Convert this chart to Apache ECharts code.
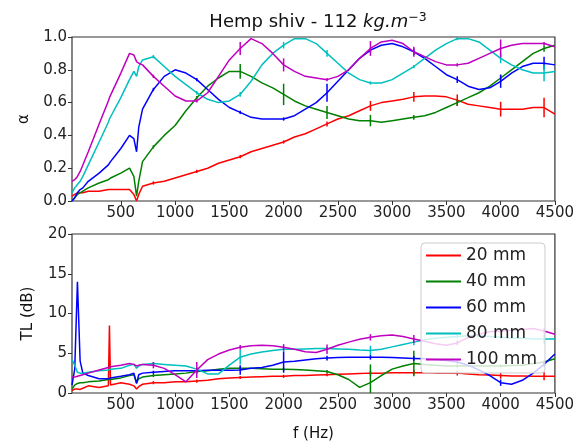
<!DOCTYPE html>
<html>
<head>
<meta charset="utf-8">
<script src="https://cdn.jsdelivr.net/npm/echarts@6/dist/echarts.min.js"></script>
<style>
  html, body { margin: 0; padding: 0; background: #fff; }
  #main { width: 577px; height: 443px; }
</style>
</head>
<body>
<div id="main"></div>
<script>
// frequency grid (Hz)
var freq = [50, 75, 100, 125, 150, 200, 300, 385, 395, 405, 500, 580, 620, 645, 665, 700,
  800, 900, 1000, 1100, 1200, 1300, 1400, 1500, 1600, 1700, 1800, 1900, 2000, 2100, 2200, 2300,
  2400, 2500, 2600, 2700, 2800, 2900, 3000, 3100, 3200, 3300, 3400, 3500, 3600, 3700, 3800, 3900,
  4000, 4100, 4200, 4300, 4400, 4500];

var names = ['20 mm', '40 mm', '60 mm', '80 mm', '100 mm'];
var colors = ['#ff0000', '#008000', '#0000ff', '#00bfbf', '#bf00bf'];

// absorption coefficient
var alpha20 = [0.03, 0.04, 0.05, 0.05, 0.05, 0.06, 0.06, 0.07, 0.07, 0.07, 0.07, 0.07, 0.04, 0.0, 0.04, 0.09,
  0.11, 0.12, 0.14, 0.16, 0.18, 0.2, 0.23, 0.25, 0.27, 0.3, 0.32, 0.34, 0.36, 0.39, 0.41, 0.44,
  0.47, 0.5, 0.52, 0.55, 0.58, 0.6, 0.61, 0.62, 0.635, 0.64, 0.64, 0.635, 0.615, 0.59, 0.58, 0.57,
  0.56, 0.56, 0.56, 0.57, 0.57, 0.53];
var alpha40 = [0.0, 0.02, 0.04, 0.05, 0.06, 0.08, 0.11, 0.13, 0.14, 0.14, 0.17, 0.2, 0.15, 0.03, 0.12, 0.24,
  0.33, 0.4, 0.46, 0.55, 0.63, 0.7, 0.75, 0.79, 0.79, 0.76, 0.72, 0.69, 0.65, 0.61, 0.58, 0.56,
  0.54, 0.52, 0.5, 0.49, 0.49, 0.48, 0.49, 0.5, 0.51, 0.52, 0.54, 0.57, 0.6, 0.63, 0.66, 0.7,
  0.75, 0.8, 0.85, 0.9, 0.93, 0.95];
var alpha60 = [0.0, 0.02, 0.05, 0.07, 0.08, 0.12, 0.17, 0.22, 0.23, 0.24, 0.32, 0.4, 0.38, 0.3, 0.45, 0.56,
  0.68, 0.76, 0.8, 0.78, 0.74, 0.68, 0.62, 0.57, 0.54, 0.51, 0.5, 0.5, 0.5, 0.52, 0.56, 0.6,
  0.66, 0.73, 0.8, 0.87, 0.92, 0.95, 0.96, 0.94, 0.91, 0.87, 0.82, 0.77, 0.74, 0.7, 0.68, 0.69,
  0.73, 0.78, 0.82, 0.84, 0.84, 0.83];
var alpha80 = [0.05, 0.08, 0.1, 0.12, 0.15, 0.22, 0.36, 0.48, 0.5, 0.51, 0.63, 0.74, 0.79, 0.76, 0.82, 0.86,
  0.88, 0.82, 0.76, 0.71, 0.66, 0.62, 0.6, 0.61, 0.65, 0.73, 0.83, 0.9, 0.95, 0.99, 0.99, 0.96,
  0.9, 0.84, 0.78, 0.74, 0.72, 0.72, 0.74, 0.78, 0.82, 0.87, 0.92, 0.96, 0.99, 0.99, 0.97, 0.92,
  0.87, 0.83, 0.8, 0.78, 0.78, 0.79];
var alpha100 = [0.12, 0.13, 0.15, 0.18, 0.22, 0.3, 0.47, 0.61, 0.63, 0.64, 0.78, 0.9, 0.89, 0.85, 0.84, 0.83,
  0.76, 0.7, 0.64, 0.61, 0.61, 0.66, 0.76, 0.86, 0.93, 0.99, 0.96, 0.9, 0.83, 0.79, 0.76, 0.75,
  0.74, 0.76, 0.8, 0.87, 0.93, 0.97, 0.98, 0.96, 0.91, 0.88, 0.85, 0.83, 0.83, 0.84, 0.87, 0.9,
  0.93, 0.95, 0.96, 0.96, 0.96, 0.94];

// transmission loss (dB)
var tl20 = [0.3, 0.5, 0.5, 0.45, 0.6, 0.9, 0.7, 0.9, 8.5, 1.0, 1.3, 1.1, 0.9, 0.5, 0.8, 1.1,
  1.3, 1.3, 1.4, 1.4, 1.5, 1.6, 1.8, 1.9, 1.95, 2.0, 2.05, 2.1, 2.1, 2.2, 2.2, 2.25,
  2.3, 2.35, 2.4, 2.45, 2.5, 2.5, 2.55, 2.55, 2.55, 2.55, 2.5, 2.5, 2.5, 2.4, 2.3, 2.25,
  2.2, 2.15, 2.15, 2.1, 2.1, 2.1];
var tl40 = [0.5, 1.0, 1.2, 1.3, 1.3, 1.4, 1.5, 1.7, 1.7, 1.7, 1.9, 2.2, 2.3, 1.3, 1.8, 2.0,
  2.2, 2.3, 2.4, 2.5, 2.7, 2.8, 3.0, 3.1, 3.1, 3.1, 3.05, 3.0, 3.0, 2.95, 2.9, 2.8,
  2.7, 2.3, 1.7, 0.7, 1.3, 2.2, 3.0, 3.4, 3.7, 3.6, 3.5, 3.4, 3.4, 3.4, 3.4, 3.4,
  3.4, 3.45, 3.5, 3.7, 3.9, 4.3];
var tl60 = [1.0, 3.0, 14.0, 4.0, 2.5, 2.2, 1.8, 1.8, 1.9, 1.9, 2.1, 2.3, 2.5, 1.2, 2.3, 2.5,
  2.6, 2.7, 2.8, 2.8, 2.8, 2.85, 2.85, 2.85, 2.9, 3.1, 3.2, 3.5, 3.9, 4.0, 4.15, 4.3,
  4.4, 4.45, 4.5, 4.5, 4.5, 4.5, 4.45, 4.4, 4.35, 4.3, 4.2, 4.1, 3.9, 3.5, 2.9, 2.2,
  1.3, 1.1, 1.6, 2.5, 3.6, 4.9];
var tl80 = [4.2, 3.5, 2.6, 2.5, 2.5, 2.6, 2.8, 2.9, 2.95, 3.0, 3.1, 3.5, 3.6, 3.1, 3.4, 3.6,
  3.7, 3.6, 3.5, 3.4, 3.0, 2.4, 2.4, 3.5, 4.5, 4.9, 5.15, 5.35, 5.5, 5.5, 5.55, 5.6,
  5.6, 5.55, 5.5, 5.4, 5.35, 5.5, 5.8, 6.1, 6.4, 6.7, 6.9, 7.0, 7.1, 7.2, 7.2, 7.1,
  7.0, 6.9, 6.9, 6.8, 6.8, 6.8];
var tl100 = [2.0, 2.0, 2.1, 2.2, 2.3, 2.5, 2.9, 3.2, 3.2, 3.3, 3.5, 3.7, 3.6, 3.4, 3.5, 3.6,
  3.5, 3.1, 2.3, 1.4, 2.9, 4.2, 4.9, 5.4, 5.75, 5.95, 6.0, 5.95, 5.75, 5.5, 5.2, 5.1,
  5.5, 6.0, 6.4, 6.75, 7.0, 7.2, 7.3, 7.1, 6.8, 6.5, 6.2, 6.0, 6.3, 7.0, 7.4, 7.7,
  7.8, 7.9, 8.0, 8.1, 7.8, 7.4];

// error bars (half height) at these frequencies
var errFreq = [800, 1200, 1600, 2000, 2400, 2800, 3200, 3600, 4000, 4400];
var errAlpha = [
  [0.01, 0.01, 0.01, 0.01, 0.015, 0.03, 0.03, 0.035, 0.045, 0.06],
  [0.01, 0.01, 0.045, 0.065, 0.04, 0.035, 0.015, 0.02, 0.02, 0.02],
  [0.01, 0.01, 0.01, 0.01, 0.055, 0.015, 0.02, 0.02, 0.04, 0.04],
  [0.01, 0.01, 0.015, 0.02, 0.02, 0.01, 0.01, 0.01, 0.03, 0.05],
  [0.01, 0.01, 0.04, 0.04, 0.01, 0.045, 0.03, 0.01, 0.055, 0.01]
];
var errTL = [
  [0.2, 0.2, 0.2, 0.2, 0.2, 0.3, 0.3, 0.3, 0.4, 0.5],
  [0.2, 0.2, 0.2, 0.2, 0.2, 2.3, 1.6, 0.2, 0.2, 0.2],
  [0.2, 0.2, 0.6, 1.35, 0.3, 0.3, 0.3, 0.2, 0.4, 0.3],
  [0.2, 0.2, 0.9, 0.3, 0.2, 0.6, 0.4, 0.2, 0.2, 0.6],
  [0.4, 1.0, 0.3, 0.4, 0.6, 0.4, 0.5, 0.3, 0.3, 0.3]
];

var xTicks = [500, 1000, 1500, 2000, 2500, 3000, 3500, 4000, 4500];
var alphaSets = [alpha20, alpha40, alpha60, alpha80, alpha100];
var tlSets = [tl20, tl40, tl60, tl80, tl100];

var font = 'DejaVu Sans';

function pairs(vals) {
  return freq.map(function (f, i) { return [f, vals[i]]; });
}

function errData(vals, err) {
  return errFreq.map(function (f, i) {
    var v = vals[freq.indexOf(f)];
    return [f, v - err[i], v + err[i]];
  });
}

function renderErr(params, api) {
  var p1 = api.coord([api.value(0), api.value(1)]);
  var p2 = api.coord([api.value(0), api.value(2)]);
  return {
    type: 'line',
    shape: { x1: p1[0], y1: p1[1], x2: p2[0], y2: p2[1] },
    style: { stroke: api.visual('color'), lineWidth: 1.5 }
  };
}

function xAxis(idx) {
  return {
    type: 'value', gridIndex: idx, min: 50, max: 4500,
    name: idx === 1 ? 'f (Hz)' : '', nameLocation: 'middle', nameGap: 34,
    nameTextStyle: { fontFamily: font, fontSize: 15, color: '#111' },
    axisLine: { show: false },
    axisTick: { show: true, length: 4, customValues: xTicks, lineStyle: { color: '#333' } },
    axisLabel: {
      customValues: xTicks, fontFamily: font, fontSize: 15, color: '#222', margin: 5,
      formatter: function (v) { return String(v); }
    },
    splitLine: { show: false }
  };
}

function yAxis(idx) {
  var top = idx === 0;
  return {
    type: 'value', gridIndex: idx,
    min: 0, max: top ? 1 : 20, interval: top ? 0.2 : 5,
    name: top ? 'α' : 'TL (dB)', nameLocation: 'middle', nameGap: top ? 40 : 36, nameRotate: 90,
    nameTextStyle: { fontFamily: font, fontSize: 15, color: '#111' },
    axisLine: { show: false },
    axisTick: { show: true, length: 4, lineStyle: { color: '#333' } },
    axisLabel: {
      fontFamily: font, fontSize: 15, color: '#222', margin: 5,
      formatter: function (v) { return top ? v.toFixed(1) : String(v); }
    },
    splitLine: { show: false }
  };
}

var series = [];
[0, 1].forEach(function (g) {
  var sets = g === 0 ? alphaSets : tlSets;
  var errs = g === 0 ? errAlpha : errTL;
  names.forEach(function (n, i) {
    series.push({
      name: n, type: 'line', xAxisIndex: g, yAxisIndex: g,
      data: pairs(sets[i]), showSymbol: false, smooth: false,
      lineStyle: { color: colors[i], width: 1.5 }, itemStyle: { color: colors[i] },
      z: 2 + i
    });
    series.push({
      name: n + ' err', type: 'custom', xAxisIndex: g, yAxisIndex: g,
      data: errData(sets[i], errs[i]), renderItem: renderErr, clip: true,
      encode: { x: 0, y: [1, 2] }, itemStyle: { color: colors[i] },
      z: 2 + i
    });
  });
});

var myChart = echarts.init(document.getElementById('main'));
var option = {
  animation: false,
  backgroundColor: '#fff',
  title: {
    text: '{n|Hemp shiv - 112 }{i|kg.m}{s|−3}',
    left: 313, top: 6, textAlign: 'center',
    textStyle: {
      fontWeight: 'normal',
      rich: {
        n: { fontFamily: font, fontSize: 18, fontWeight: 'normal', color: '#111' },
        i: { fontFamily: font, fontSize: 18, fontWeight: 'normal', fontStyle: 'italic', color: '#111' },
        s: { fontFamily: font, fontSize: 12.5, fontWeight: 'normal', color: '#111', padding: [0, 0, 9, 0] }
      }
    }
  },
  grid: [
    { left: 72, top: 37, width: 483, height: 164, show: true, borderColor: '#333', borderWidth: 1.2, backgroundColor: 'transparent' },
    { left: 72, top: 234, width: 483, height: 163, show: true, borderColor: '#333', borderWidth: 1.2, backgroundColor: 'transparent' }
  ],
  xAxis: [xAxis(0), xAxis(1)],
  yAxis: [yAxis(0), yAxis(1)],
  legend: {
    data: names, orient: 'vertical', left: 421, top: 243,
    icon: 'rect', itemWidth: 35, itemHeight: 2, itemGap: 9,
    padding: [4, 8, 5, 5],
    backgroundColor: 'rgba(255,255,255,0.8)', borderColor: '#ccc', borderWidth: 1, borderRadius: 4,
    textStyle: { fontFamily: font, fontSize: 17, color: '#222', lineHeight: 17 },
    z: 20
  },
  series: series
};
option && myChart.setOption(option);
</script>
</body>
</html>
